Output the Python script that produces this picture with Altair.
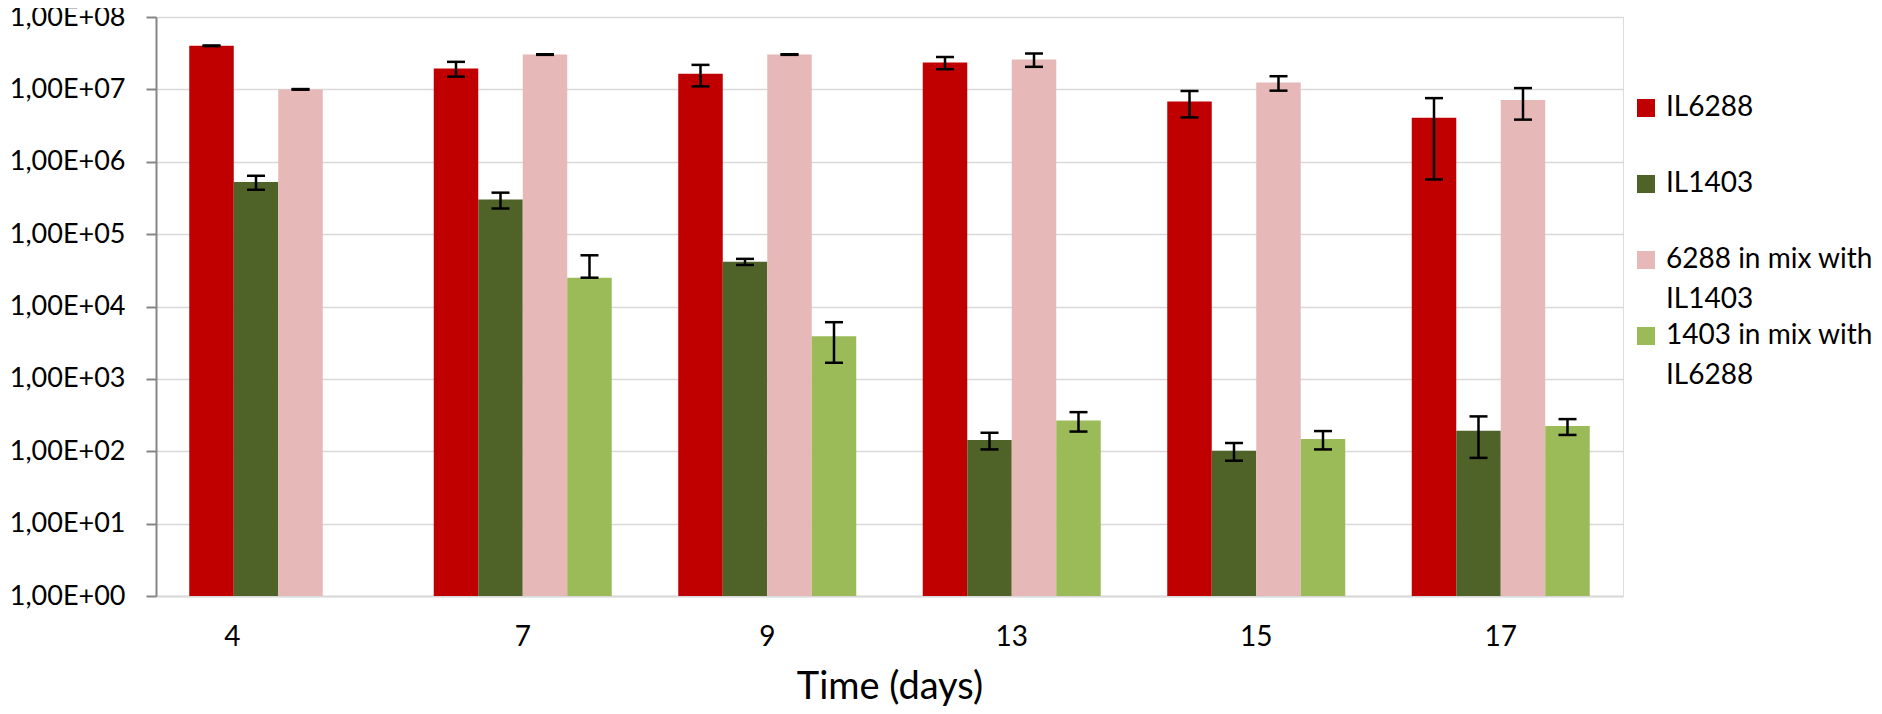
import altair as alt
import pandas as pd

days = ["4", "7", "9", "13", "15", "17"]
series_names = ["IL6288", "IL1403", "6288 in mix with IL1403", "1403 in mix with IL6288"]
colors = ["#C00000", "#4F6228", "#E6B9B8", "#9BBB59"]

il6288 = [4.0e7, 1.95e7, 1.64e7, 2.35e7, 6.8e6, 4.07e6]
il6288_sd = [4e5, 4.5e6, 5.4e6, 4.5e6, 2.7e6, 3.5e6]
il1403 = [5.25e5, 3.0e5, 4.15e4, 143, 102, 192]
il1403_sd = [1.15e5, 7.4e4, 4e3, 37, 28, 111]
mix6288 = [1.0e7, 3.03e7, 3.03e7, 2.59e7, 1.24e7, 7.12e6]
mix6288_sd = [1e5, 3e5, 3e5, 5.4e6, 2.8e6, 3.3e6]
mix1403 = [None, 2.5e4, 3.87e3, 267, 148, 223]
mix1403_sd = [None, 2.6e4, 2.2e3, 80, 42, 55]

y_ticks = [1, 10, 100, 1000, 1e4, 1e5, 1e6, 1e7, 1e8]

rows = []
for name, vals, sds in zip(series_names,
                           [il6288, il1403, mix6288, mix1403],
                           [il6288_sd, il1403_sd, mix6288_sd, mix1403_sd]):
    for d, v, s in zip(days, vals, sds):
        if v is None:
            continue
        lo = v - s if v - s > 0 else v
        rows.append(dict(day=d, series=name, value=v, lo=lo, hi=v + s, base=1))
df = pd.DataFrame(rows)

FONT = "Lato"

x_axis = alt.Axis(
    title="Time (days)", labelAngle=0, ticks=False, tickSize=0,
    labelFont=FONT, labelFontSize=28, labelColor="#000000", labelPadding=27,
    labelOffset={"condition": {"test": "datum.label == '4'", "value": -46}, "value": 0},
    domainColor="#d9d9d9", domainWidth=2,
    titleFont=FONT, titleFontSize=38, titleFontWeight="normal", titleColor="#000000",
    titleBaseline="alphabetic", titleY=102,
)
y_axis = alt.Axis(
    title=None, values=y_ticks,
    labelExpr="'1,00E+0' + round(log(datum.value) / LN10)",
    labelFont=FONT, labelFontSize=27, labelColor="#000000", labelPadding=21,
    tickSize=10, tickColor="#868686", tickWidth=2,
    domainColor="#868686", domainWidth=2,
    grid=True, gridColor="#d9d9d9", gridWidth=1.5,
)

x_enc = alt.X("day:N", sort=days, axis=x_axis,
              scale=alt.Scale(paddingInner=0.272, paddingOuter=0.136))
xo_enc = alt.XOffset("series:N", sort=series_names,
                     scale=alt.Scale(paddingInner=0, paddingOuter=0))
y_scale = alt.Scale(type="log", domain=[1, 1e8], nice=False)

bars = alt.Chart(df).mark_bar().encode(
    x=x_enc,
    xOffset=xo_enc,
    y=alt.Y("value:Q", scale=y_scale, axis=y_axis),
    y2=alt.Y2("base:Q"),
    color=alt.Color(
        "series:N",
        scale=alt.Scale(domain=series_names, range=colors),
        legend=alt.Legend(
            title=None, orient="none", legendX=1476, legendY=77,
            direction="vertical", gridAlign="all", rowPadding=8,
            symbolType="square", symbolSize=324, symbolStrokeWidth=0, symbolOpacity=1,
            labelFont=FONT, labelFontSize=28, labelColor="#000000",
            labelOffset=6, labelLimit=400, padding=0,
            labelExpr="split(replace(datum.label, 'with ', 'with|'), '|')",
        ),
    ),
)

rules = alt.Chart(df).mark_rule(color="black", strokeWidth=2.5).encode(
    x=x_enc, xOffset=xo_enc,
    y=alt.Y("lo:Q", scale=y_scale, axis=y_axis),
    y2=alt.Y2("hi:Q"),
)
caps_hi = alt.Chart(df).mark_tick(color="black", thickness=2.5, size=18, opacity=1).encode(
    x=x_enc, xOffset=xo_enc,
    y=alt.Y("hi:Q", scale=y_scale, axis=y_axis),
)
caps_lo = alt.Chart(df).mark_tick(color="black", thickness=2.5, size=18, opacity=1).encode(
    x=x_enc, xOffset=xo_enc,
    y=alt.Y("lo:Q", scale=y_scale, axis=y_axis),
)

chart = alt.layer(bars, rules, caps_hi, caps_lo).properties(
    width=1467, height=579,
    padding={"left": 148, "top": 9, "right": 251, "bottom": 110},
    autosize=alt.AutoSizeParams(type="none"),
).configure_view(stroke=None).configure(
    background="white",
    style={"guide-label": {"lineHeight": 40}},
)

chart.save("out.html", embed_options={"renderer": "svg", "actions": False})
